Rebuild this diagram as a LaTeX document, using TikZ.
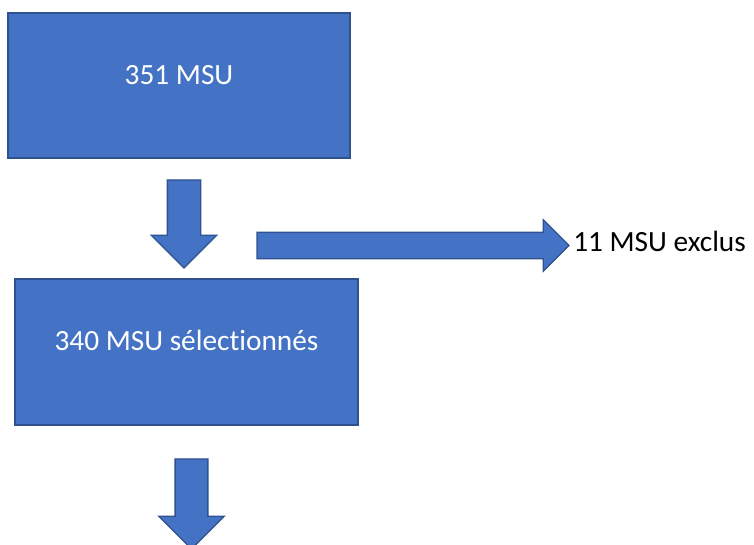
\documentclass[tikz,border=0pt]{standalone}
\usepackage{fontspec}
\setmainfont{Carlito}[Ligatures=NoCommon]
\usetikzlibrary{shapes.arrows}
\definecolor{msublue}{HTML}{4472C4}
\definecolor{msuedge}{HTML}{2F528F}

\begin{document}
\begin{tikzpicture}[x=0.75pt, y=-0.75pt,
	box/.style={rectangle, draw=msuedge, fill=msublue, line width=1pt, text=white, inner sep=0pt, text height=0pt, text depth=1.5pt, font=\fontsize{22}{26}\selectfont},
	fat arrow/.style={single arrow, draw=msuedge, fill=msublue, line width=1pt, inner xsep=0pt, outer sep=0pt, single arrow head indent=0pt}]
	\useasboundingbox (0,0) rectangle (754,545);
	% boxes
	\node (351) at (179,85.5) [box, minimum width=256.5pt, minimum height=108.75pt] {351 MSU};
	\node (340) at (186.5,352) [box, minimum width=257.25pt, minimum height=109.5pt] {340 MSU sélectionnés};
	% block arrows
	\node (a1) at (184,180) [fat arrow, rotate=-90, anchor=tail, inner ysep=12pt, single arrow head extend=12pt, minimum height=66pt] {};
	\node (a2) at (191.5,459) [fat arrow, rotate=-90, anchor=tail, inner ysep=11.8pt, single arrow head extend=12.2pt, minimum height=67.5pt] {};
	\node (a3) at (257,245.5) [fat arrow, anchor=tail, inner ysep=9.4pt, single arrow head extend=9.4pt, minimum height=234pt] {};
	\node (11) at (573,252) [anchor=base west, inner sep=0pt, font=\fontsize{22}{26}\selectfont] {11 MSU exclus};
\end{tikzpicture}
\end{document}
